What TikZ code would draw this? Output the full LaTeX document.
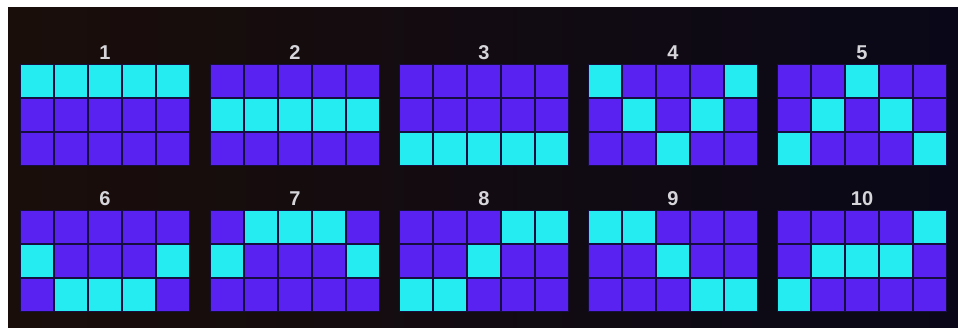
\documentclass[tikz,border=0pt]{standalone}
\usepackage{fontspec}
\setmainfont{Liberation Sans}
\usepackage{tikz}
\usetikzlibrary{positioning}
\usepackage{xcolor}
\definecolor{cellpurple}{RGB}{90,34,240}
\definecolor{cellcyan}{RGB}{36,236,240}
\definecolor{gapnavy}{RGB}{22,14,62}
\definecolor{bgbrown}{RGB}{26,14,10}
\definecolor{bgnavy}{RGB}{10,8,24}
\definecolor{labelgrey}{RGB}{214,214,218}

\begin{document}
\begin{tikzpicture}[x=1pt, y=-1pt,
    linenum/.style={text=labelgrey, font=\bfseries\fontsize{20}{20}\selectfont, inner sep=0pt}]
  \useasboundingbox (0,0) rectangle (958,328);
  % backdrop
  \fill[white] (0,0) rectangle (958,328);
  \shade[left color=bgbrown, right color=bgnavy] (8,8) rectangle (958,328);
  % one grid per payline: number / left / top / selected row of each reel
  \foreach \n/\gx/\gy/\la/\lb/\lc/\ld/\le in {
      1/21/65/1/1/1/1/1, 2/211/65/2/2/2/2/2, 3/400/65/3/3/3/3/3,
      4/589/65/1/2/3/2/1, 5/778/65/3/2/1/2/3,
      6/21/211/2/3/3/3/2, 7/211/211/2/1/1/1/2, 8/400/211/3/3/2/1/1,
      9/589/211/1/1/2/3/3, 10/778/211/3/2/2/2/1} {
    \node[linenum] (lbl\n) at (\gx+84,\gy-12) {\n};
    \fill[gapnavy] (\gx-1,\gy-1) rectangle ++(170,102);
    \foreach \sel [count=\col from 0] in {\la,\lb,\lc,\ld,\le} {
      \foreach \row in {1,2,3} {
        \ifnum\row=\sel\relax \def\cellcol{cellcyan}\else \def\cellcol{cellpurple}\fi
        \fill[\cellcol] (\gx+\col*34,\gy+\row*34-34) rectangle ++(32,32);
      }
    }
  }
\end{tikzpicture}
\end{document}
